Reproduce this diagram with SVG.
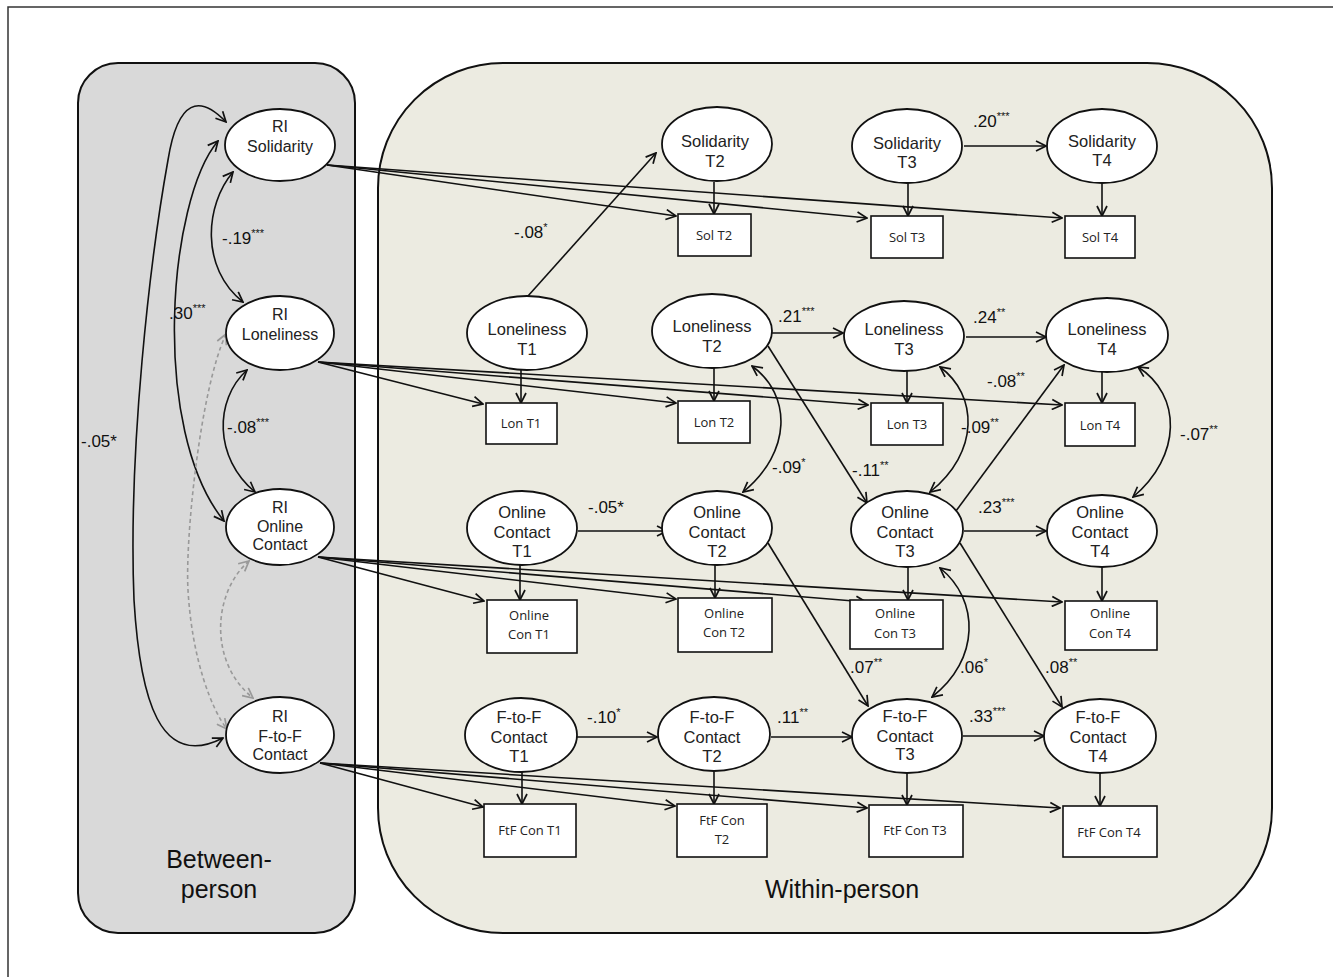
<svg xmlns="http://www.w3.org/2000/svg" width="1333" height="977" viewBox="0 0 1333 977">
<style>
.frame{fill:#fff;stroke:#333;stroke-width:1.5}
.bp{fill:#d9d9d9;stroke:#111;stroke-width:2}
.wp{fill:#ecebe1;stroke:#111;stroke-width:2}
.lat{fill:#fff;stroke:#111;stroke-width:1.8}
.obs{fill:#fff;stroke:#111;stroke-width:1.6}
.nt{font-family:"Liberation Sans",Arial,sans-serif;font-size:16.5px;fill:#222;text-anchor:middle}
.rt{font-family:"Liberation Sans",Arial,sans-serif;font-size:16px;fill:#222;text-anchor:middle}
.bt{font-family:"Open Sans","Noto Sans",sans-serif;font-size:13px;fill:#222;text-anchor:middle}
.lb{font-family:"Liberation Sans",Arial,sans-serif;font-size:17px;fill:#111}
.sup{font-size:11px}
.title{font-family:"Liberation Sans",Arial,sans-serif;font-size:25px;fill:#111;text-anchor:middle}
.c{fill:none;stroke:#111;stroke-width:1.6}
.d{fill:none;stroke:#999;stroke-width:1.6;stroke-dasharray:4 3}
</style>
<defs>
<marker id="ah" viewBox="0 0 12 12" refX="11" refY="6" markerWidth="12" markerHeight="12" markerUnits="userSpaceOnUse" orient="auto-start-reverse">
<path d="M1,1 L11,6 L1,11" fill="none" stroke="#111" stroke-width="1.7"/>
</marker>
<marker id="ahg" viewBox="0 0 12 12" refX="11" refY="6" markerWidth="12" markerHeight="12" markerUnits="userSpaceOnUse" orient="auto-start-reverse">
<path d="M1,1 L11,6 L1,11" fill="none" stroke="#999" stroke-width="1.7"/>
</marker>
</defs>

<rect class="frame" x="8" y="7" width="1340" height="1000"/>

<g id="between-person">
<rect class="bp" x="78" y="63" width="277" height="870" rx="40" ry="40"/>
<text class="title" x="219" y="868">Between-</text>
<text class="title" x="219" y="898">person</text>
</g>
<g id="within-person">
<rect class="wp" x="378" y="63" width="894" height="870" rx="125" ry="125"/>
<text class="title" x="842" y="898">Within-person</text>
</g>

<g id="connectors">
<path class="c" d="M233,172 C205,205 200,268 243,302" marker-start="url(#ah)" marker-end="url(#ah)"/>
<path class="c" d="M218,141 C168,200 150,430 224,521" marker-start="url(#ah)" marker-end="url(#ah)"/>
<path class="c" d="M226,122 C200,95 178,98 168,160 C150,260 128,450 134,600 C140,700 160,770 223,738" marker-start="url(#ah)" marker-end="url(#ah)"/>
<path class="c" d="M247,370 C214,400 214,458 255,492" marker-start="url(#ah)" marker-end="url(#ah)"/>
<path class="d" d="M226,334 C200,390 185,540 188,590 C192,660 212,710 227,729" marker-start="url(#ahg)" marker-end="url(#ahg)"/>
<path class="d" d="M249,561 C213,592 208,662 253,698" marker-start="url(#ahg)" marker-end="url(#ahg)"/>
<path class="c" d="M327,165 L676,216" marker-end="url(#ah)"/>
<path class="c" d="M327,165 L867,218" marker-end="url(#ah)"/>
<path class="c" d="M327,165 L1062,218" marker-end="url(#ah)"/>
<path class="c" d="M318,362 L483,404" marker-end="url(#ah)"/>
<path class="c" d="M318,362 L676,403" marker-end="url(#ah)"/>
<path class="c" d="M318,362 L868,405" marker-end="url(#ah)"/>
<path class="c" d="M318,362 L1062,405" marker-end="url(#ah)"/>
<path class="c" d="M318,557 L484,601" marker-end="url(#ah)"/>
<path class="c" d="M318,557 L676,599" marker-end="url(#ah)"/>
<path class="c" d="M318,557 L866,602" marker-end="url(#ah)"/>
<path class="c" d="M318,557 L1062,602" marker-end="url(#ah)"/>
<path class="c" d="M320,763 L483,807" marker-end="url(#ah)"/>
<path class="c" d="M320,763 L675,806" marker-end="url(#ah)"/>
<path class="c" d="M320,763 L867,808" marker-end="url(#ah)"/>
<path class="c" d="M320,763 L1060,808" marker-end="url(#ah)"/>
<path class="c" d="M714,182 L714,214" marker-end="url(#ah)"/>
<path class="c" d="M908,183 L908,216" marker-end="url(#ah)"/>
<path class="c" d="M1102,183 L1102,216" marker-end="url(#ah)"/>
<path class="c" d="M521,370 L521,403" marker-end="url(#ah)"/>
<path class="c" d="M714,368 L714,401" marker-end="url(#ah)"/>
<path class="c" d="M907,371 L907,403" marker-end="url(#ah)"/>
<path class="c" d="M1102,372 L1102,403" marker-end="url(#ah)"/>
<path class="c" d="M520,565 L520,600" marker-end="url(#ah)"/>
<path class="c" d="M715,565 L715,598" marker-end="url(#ah)"/>
<path class="c" d="M908,567 L908,600" marker-end="url(#ah)"/>
<path class="c" d="M1102,567 L1102,601" marker-end="url(#ah)"/>
<path class="c" d="M522,772 L522,804" marker-end="url(#ah)"/>
<path class="c" d="M714,772 L714,804" marker-end="url(#ah)"/>
<path class="c" d="M907,773 L907,805" marker-end="url(#ah)"/>
<path class="c" d="M1100,773 L1100,806" marker-end="url(#ah)"/>
<path class="c" d="M964,146 L1046,146" marker-end="url(#ah)"/>
<path class="c" d="M772,333 L843,333" marker-end="url(#ah)"/>
<path class="c" d="M966,337 L1046,337" marker-end="url(#ah)"/>
<path class="c" d="M578,531 L667,531" marker-end="url(#ah)"/>
<path class="c" d="M964,531 L1046,531" marker-end="url(#ah)"/>
<path class="c" d="M577,737 L657,737" marker-end="url(#ah)"/>
<path class="c" d="M771,737 L852,737" marker-end="url(#ah)"/>
<path class="c" d="M963,736 L1044,736" marker-end="url(#ah)"/>
<path class="c" d="M528,296 L656,153" marker-end="url(#ah)"/>
<path class="c" d="M768,346 L867,503" marker-end="url(#ah)"/>
<path class="c" d="M953,515 L1064,365" marker-end="url(#ah)"/>
<path class="c" d="M768,543 L868,706" marker-end="url(#ah)"/>
<path class="c" d="M960,543 L1062,707" marker-end="url(#ah)"/>
<path class="c" d="M752,366 C792,395 792,452 743,492" marker-start="url(#ah)" marker-end="url(#ah)"/>
<path class="c" d="M940,367 C978,395 980,452 930,492" marker-start="url(#ah)" marker-end="url(#ah)"/>
<path class="c" d="M1138,367 C1182,395 1182,456 1133,497" marker-start="url(#ah)" marker-end="url(#ah)"/>
<path class="c" d="M940,568 C980,600 980,660 932,697" marker-start="url(#ah)" marker-end="url(#ah)"/>
</g>

<g id="labels">
<text class="lb" x="222" y="244">-.19<tspan class="sup" dy="-7">***</tspan></text>
<text class="lb" x="169" y="319">.30<tspan class="sup" dy="-7">***</tspan></text>
<text class="lb" x="81" y="447">-.05*</text>
<text class="lb" x="227" y="433">-.08<tspan class="sup" dy="-7">***</tspan></text>
<text class="lb" x="514" y="238">-.08<tspan class="sup" dy="-7">*</tspan></text>
<text class="lb" x="778" y="322">.21<tspan class="sup" dy="-7">***</tspan></text>
<text class="lb" x="973" y="127">.20<tspan class="sup" dy="-7">***</tspan></text>
<text class="lb" x="973" y="323">.24<tspan class="sup" dy="-7">**</tspan></text>
<text class="lb" x="987" y="387">-.08<tspan class="sup" dy="-7">**</tspan></text>
<text class="lb" x="961" y="433">-.09<tspan class="sup" dy="-7">**</tspan></text>
<text class="lb" x="1180" y="440">-.07<tspan class="sup" dy="-7">**</tspan></text>
<text class="lb" x="772" y="473">-.09<tspan class="sup" dy="-7">*</tspan></text>
<text class="lb" x="852" y="476">-.11<tspan class="sup" dy="-7">**</tspan></text>
<text class="lb" x="588" y="513">-.05*</text>
<text class="lb" x="978" y="513">.23<tspan class="sup" dy="-7">***</tspan></text>
<text class="lb" x="850" y="673">.07<tspan class="sup" dy="-7">**</tspan></text>
<text class="lb" x="960" y="673">.06<tspan class="sup" dy="-7">*</tspan></text>
<text class="lb" x="1045" y="673">.08<tspan class="sup" dy="-7">**</tspan></text>
<text class="lb" x="587" y="723">-.10<tspan class="sup" dy="-7">*</tspan></text>
<text class="lb" x="777" y="723">.11<tspan class="sup" dy="-7">**</tspan></text>
<text class="lb" x="969" y="722">.33<tspan class="sup" dy="-7">***</tspan></text>
</g>

<g id="ri-solidarity"><ellipse class="lat" cx="280" cy="145" rx="55" ry="36"/><text class="rt" x="280" y="132">RI</text><text class="rt" x="280" y="152">Solidarity</text></g>
<g id="ri-loneliness"><ellipse class="lat" cx="280" cy="333" rx="54" ry="37"/><text class="rt" x="280" y="320">RI</text><text class="rt" x="280" y="340">Loneliness</text></g>
<g id="ri-online"><ellipse class="lat" cx="280" cy="527" rx="54" ry="38"/><text class="rt" x="280" y="513">RI</text><text class="rt" x="280" y="532">Online</text><text class="rt" x="280" y="550">Contact</text></g>
<g id="ri-ftf"><ellipse class="lat" cx="280" cy="735" rx="54" ry="38"/><text class="rt" x="280" y="722">RI</text><text class="rt" x="280" y="742">F-to-F</text><text class="rt" x="280" y="760">Contact</text></g>

<g id="sol-t2"><ellipse class="lat" cx="717" cy="144" rx="55" ry="37"/><text class="nt" x="715" y="147">Solidarity</text><text class="nt" x="715" y="167">T2</text></g>
<g id="sol-t3"><ellipse class="lat" cx="907" cy="146" rx="55" ry="37"/><text class="nt" x="907" y="149">Solidarity</text><text class="nt" x="907" y="168">T3</text></g>
<g id="sol-t4"><ellipse class="lat" cx="1102" cy="146" rx="55" ry="37"/><text class="nt" x="1102" y="147">Solidarity</text><text class="nt" x="1102" y="166">T4</text></g>

<g id="lon-t1"><ellipse class="lat" cx="527" cy="333" rx="60" ry="37"/><text class="nt" x="527" y="335">Loneliness</text><text class="nt" x="527" y="355">T1</text></g>
<g id="lon-t2"><ellipse class="lat" cx="712" cy="331" rx="60" ry="37"/><text class="nt" x="712" y="332">Loneliness</text><text class="nt" x="712" y="352">T2</text></g>
<g id="lon-t3"><ellipse class="lat" cx="904" cy="336" rx="60" ry="35"/><text class="nt" x="904" y="335">Loneliness</text><text class="nt" x="904" y="355">T3</text></g>
<g id="lon-t4"><ellipse class="lat" cx="1107" cy="335" rx="61" ry="37"/><text class="nt" x="1107" y="335">Loneliness</text><text class="nt" x="1107" y="355">T4</text></g>

<g id="onl-t1"><ellipse class="lat" cx="522" cy="528" rx="55" ry="37"/><text class="nt" x="522" y="518">Online</text><text class="nt" x="522" y="538">Contact</text><text class="nt" x="522" y="557">T1</text></g>
<g id="onl-t2"><ellipse class="lat" cx="717" cy="528" rx="55" ry="37"/><text class="nt" x="717" y="518">Online</text><text class="nt" x="717" y="538">Contact</text><text class="nt" x="717" y="557">T2</text></g>
<g id="onl-t3"><ellipse class="lat" cx="907" cy="529" rx="56" ry="38"/><text class="nt" x="905" y="518">Online</text><text class="nt" x="905" y="538">Contact</text><text class="nt" x="905" y="557">T3</text></g>
<g id="onl-t4"><ellipse class="lat" cx="1102" cy="531" rx="55" ry="36"/><text class="nt" x="1100" y="518">Online</text><text class="nt" x="1100" y="538">Contact</text><text class="nt" x="1100" y="557">T4</text></g>

<g id="ftf-t1"><ellipse class="lat" cx="521" cy="735" rx="56" ry="37"/><text class="nt" x="519" y="723">F-to-F</text><text class="nt" x="519" y="743">Contact</text><text class="nt" x="519" y="762">T1</text></g>
<g id="ftf-t2"><ellipse class="lat" cx="714" cy="734" rx="56" ry="37"/><text class="nt" x="712" y="723">F-to-F</text><text class="nt" x="712" y="743">Contact</text><text class="nt" x="712" y="762">T2</text></g>
<g id="ftf-t3"><ellipse class="lat" cx="907" cy="736" rx="55" ry="37"/><text class="nt" x="905" y="722">F-to-F</text><text class="nt" x="905" y="742">Contact</text><text class="nt" x="905" y="760">T3</text></g>
<g id="ftf-t4"><ellipse class="lat" cx="1100" cy="736" rx="56" ry="37"/><text class="nt" x="1098" y="723">F-to-F</text><text class="nt" x="1098" y="743">Contact</text><text class="nt" x="1098" y="762">T4</text></g>

<g id="box-sol-t2"><rect class="obs" x="678" y="214" width="73" height="42"/><text class="bt" x="714" y="240">Sol T2</text></g>
<g id="box-sol-t3"><rect class="obs" x="871" y="216" width="72" height="42"/><text class="bt" x="907" y="242">Sol T3</text></g>
<g id="box-sol-t4"><rect class="obs" x="1065" y="216" width="70" height="42"/><text class="bt" x="1100" y="242">Sol T4</text></g>

<g id="box-lon-t1"><rect class="obs" x="486" y="403" width="71" height="41"/><text class="bt" x="521" y="428">Lon T1</text></g>
<g id="box-lon-t2"><rect class="obs" x="678" y="401" width="72" height="42"/><text class="bt" x="714" y="427">Lon T2</text></g>
<g id="box-lon-t3"><rect class="obs" x="871" y="403" width="72" height="42"/><text class="bt" x="907" y="429">Lon T3</text></g>
<g id="box-lon-t4"><rect class="obs" x="1065" y="403" width="70" height="43"/><text class="bt" x="1100" y="430">Lon T4</text></g>

<g id="box-onl-t1"><rect class="obs" x="487" y="600" width="90" height="53"/><text class="bt" x="529" y="620">Online</text><text class="bt" x="529" y="639">Con T1</text></g>
<g id="box-onl-t2"><rect class="obs" x="678" y="598" width="94" height="54"/><text class="bt" x="724" y="618">Online</text><text class="bt" x="724" y="637">Con T2</text></g>
<g id="box-onl-t3"><rect class="obs" x="850" y="600" width="93" height="49"/><text class="bt" x="895" y="618">Online</text><text class="bt" x="895" y="638">Con T3</text></g>
<g id="box-onl-t4"><rect class="obs" x="1065" y="601" width="92" height="49"/><text class="bt" x="1110" y="618">Online</text><text class="bt" x="1110" y="638">Con T4</text></g>

<g id="box-ftf-t1"><rect class="obs" x="484" y="804" width="92" height="53"/><text class="bt" x="530" y="835">FtF Con T1</text></g>
<g id="box-ftf-t2"><rect class="obs" x="677" y="804" width="90" height="53"/><text class="bt" x="722" y="825">FtF Con</text><text class="bt" x="722" y="844">T2</text></g>
<g id="box-ftf-t3"><rect class="obs" x="869" y="805" width="94" height="52"/><text class="bt" x="915" y="835">FtF Con T3</text></g>
<g id="box-ftf-t4"><rect class="obs" x="1063" y="806" width="94" height="51"/><text class="bt" x="1109" y="837">FtF Con T4</text></g>
</svg>
